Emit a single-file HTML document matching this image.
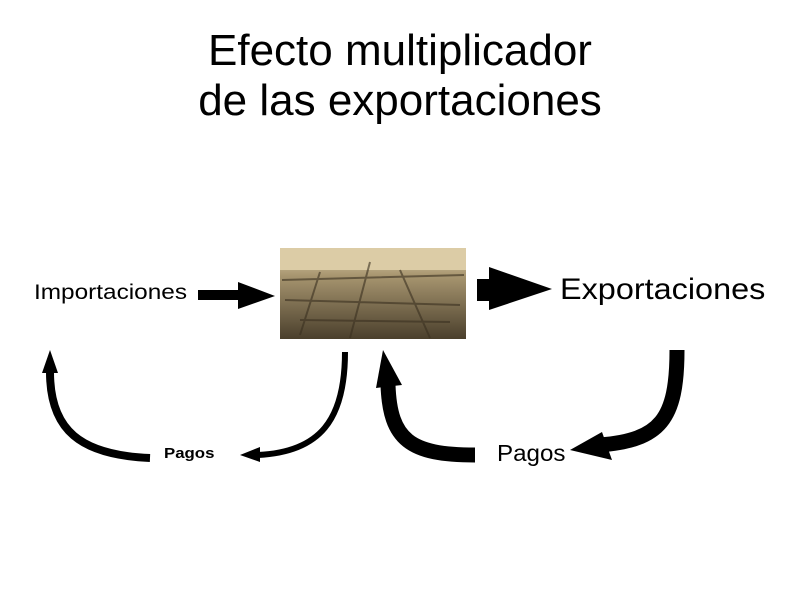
<!DOCTYPE html>
<html><head><meta charset="utf-8"><style>
body{margin:0;width:800px;height:600px;background:#fff;position:relative;overflow:hidden;font-family:"Liberation Sans",sans-serif}
.t{position:absolute;white-space:nowrap;color:#000}
</style></head><body>
<div class="t" style="left:0;width:800px;text-align:center;top:26px;font-size:44px;line-height:50px">Efecto multiplicador<br>de las exportaciones</div>
<div class="t" style="left:34px;top:281px;font-size:21px;transform:scaleX(1.16);transform-origin:0 0">Importaciones</div>
<div class="t" style="left:560px;top:273px;font-size:30px;transform:scaleX(1.08);transform-origin:0 0">Exportaciones</div>
<div class="t" style="left:164px;top:445px;font-size:15px;font-weight:bold;transform:scaleX(1.12);transform-origin:0 0">Pagos</div>
<div class="t" style="left:497px;top:440px;font-size:23px;transform:scaleX(1.05);transform-origin:0 0">Pagos</div>
<svg width="800" height="600" style="position:absolute;left:0;top:0">
<defs><linearGradient id="g" x1="0" y1="0" x2="0" y2="1"><stop offset="0" stop-color="#e2d3ae"/><stop offset="0.3" stop-color="#a89670"/><stop offset="1" stop-color="#4a3f2c"/></linearGradient></defs>
<rect x="280" y="248" width="186" height="91" fill="url(#g)"/>
<rect x="280" y="248" width="186" height="22" fill="#dccca6"/>
<g stroke="#3a3020" stroke-width="2" opacity="0.6">
<path d="M282 280 L464 275 M285 300 L460 305 M300 320 L450 322 M370 262 L350 338 M400 270 L430 338 M320 272 L300 335"/></g>
<polygon points="198,290 238,290 238,282 275,296 238,309 238,300 198,300"/>
<polygon points="477,279 489,279 489,267 552,289 489,310 489,301 477,301"/>
<path d="M150 458 C80 455 50 430 50 372" fill="none" stroke="#000" stroke-width="8"/>
<polygon points="42,373 58,373 50,350"/>
<path d="M345 352 C345 420 320 452 258 455" fill="none" stroke="#000" stroke-width="6"/>
<polygon points="260,447 260,462 240,455"/>
<path d="M475 455 C410 455 390 440 388 385" fill="none" stroke="#000" stroke-width="15"/>
<polygon points="376,388 402,385 383,350"/>
<path d="M677 350 C677 420 660 440 600 445" fill="none" stroke="#000" stroke-width="15"/>
<polygon points="602,432 612,460 570,450"/>
</svg>
</body></html>
